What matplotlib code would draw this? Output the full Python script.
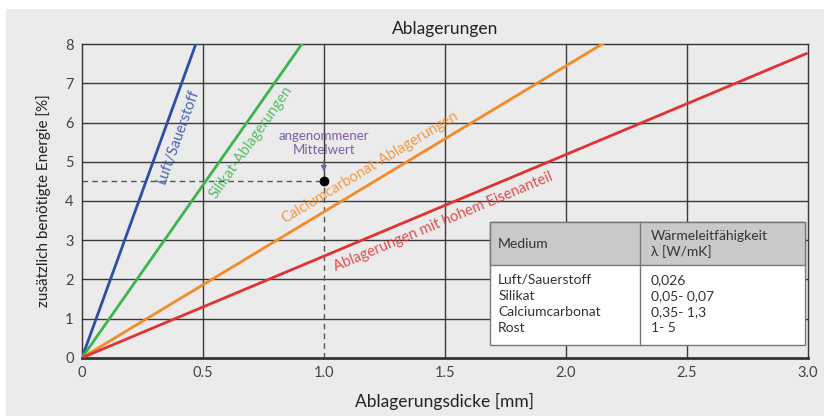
import numpy as np
import matplotlib.pyplot as plt
from matplotlib.patches import Rectangle

plt.rcParams['font.family'] = ['Lato', 'DejaVu Sans']

# slopes of the lines (% per mm)
media = ["Luft/Sauerstoff", "Silikat-Ablagerungen",
         "Calciumcarbonat-Ablagerungen", "Ablagerungen mit hohem Eisenanteil"]
slopes = [17.0, 8.8, 3.72, 2.59]
colors = ["#2c4ea6", "#3cb44b", "#f28a26", "#e03232"]
# x where each label sits along its line, and on which side (+1 below/right, -1 above/left)
label_x = [0.34, 0.65, 1.22, 1.47]
label_side = [1, 1, -1, 1]

mean_x, mean_y = 1.0, 4.5

table_media = ["Luft/Sauerstoff", "Silikat", "Calciumcarbonat", "Rost"]
table_lambda = ["0,026", "0,05- 0,07", "0,35- 1,3", "1- 5"]

bg = "#ebebeb"
fig = plt.figure(figsize=(8.24, 4.16), dpi=100, facecolor=bg)
ax = fig.add_axes([0.0995, 0.14, 0.8805, 0.754])
ax.set_facecolor(bg)
ax.set_xlim(0, 3.0)
ax.set_ylim(0, 8)

# grid
for gx in np.arange(0.5, 3.0, 0.5):
    if np.isclose(gx, mean_x):
        ax.axvline(gx, ymin=mean_y / 8, color="#3a3a3a", lw=1.0, zorder=1)
    else:
        ax.axvline(gx, color="#3a3a3a", lw=1.0, zorder=1)
for gy in range(1, 8):
    ax.axhline(gy, color="#3a3a3a", lw=1.0, zorder=1)

x = np.array([0, 3.0])
for s, c in zip(slopes, colors):
    ax.plot(x, s * x, color=c, lw=2.0, zorder=3, solid_capstyle="butt")

# labels along the lines, shifted sideways by a few points
for name, s, c, lx, side in zip(media, slopes, colors, label_x, label_side):
    p0 = ax.transData.transform((0, 0))
    p1 = ax.transData.transform((1, s))
    ang = np.arctan2(p1[1] - p0[1], p1[0] - p0[0])
    off = 10.5
    dx, dy = side * off * np.sin(ang), -side * off * np.cos(ang)
    ax.annotate(name, xy=(lx, s * lx), xytext=(dx, dy), textcoords="offset points",
                color=c, alpha=0.85, fontsize=10.5, ha="center", va="center",
                rotation=np.degrees(ang), rotation_mode="anchor", zorder=2)

# assumed mean value
ax.plot([0, mean_x], [mean_y, mean_y], ls=(0, (4, 3)), color="#555555", lw=1.0, zorder=2)
ax.plot([mean_x, mean_x], [0, mean_y], ls=(0, (4, 3)), color="#555555", lw=1.0, zorder=2)
ax.plot(mean_x, mean_y, "o", color="black", ms=6, zorder=5)
ax.text(mean_x, 5.48, "angenommener\nMittelwert", color="#7b5ea7", fontsize=9.5,
        ha="center", va="center", linespacing=1.15, zorder=4)
ax.annotate("", xy=(mean_x, 4.68), xytext=(mean_x, 5.08),
            arrowprops=dict(arrowstyle="-|>", color="#7b5ea7", lw=1.0,
                            mutation_scale=8), zorder=4)

# table
tx0, tx1, tcol = 1.686, 2.99, 2.306
ty0, ty1, thead = 0.33, 3.46, 2.37
ax.add_patch(Rectangle((tx0, ty0), tx1 - tx0, ty1 - ty0, facecolor="white",
                       edgecolor="#777777", lw=1.0, zorder=6))
ax.add_patch(Rectangle((tx0, thead), tx1 - tx0, ty1 - thead, facecolor="#c9c9c9",
                       edgecolor="#777777", lw=1.0, zorder=6))
ax.plot([tcol, tcol], [ty0, ty1], color="#777777", lw=1.0, zorder=7)
ax.text(tx0 + 0.035, 2.9, "Medium", fontsize=10, color="#333333", va="center", zorder=8)
ax.text(tcol + 0.045, 2.9, "Wärmeleitfähigkeit\nλ [W/mK]", fontsize=10,
        color="#333333", va="center", linespacing=1.2, zorder=8)
row_y = [1.99, 1.58, 1.17, 0.76]
for m, lam, ry in zip(table_media, table_lambda, row_y):
    ax.text(tx0 + 0.035, ry, m, fontsize=10, color="#333333", va="center", zorder=8)
    ax.text(tcol + 0.045, ry, lam, fontsize=10, color="#333333", va="center", zorder=8)

ax.set_xticks(np.arange(0, 3.01, 0.5))
ax.set_xticklabels(["0", "0.5", "1.0", "1.5", "2.0", "2.5", "3.0"])
ax.set_yticks(range(0, 9))
ax.tick_params(length=0, labelsize=10.5, labelcolor="#444444", pad=6)
for sp in ax.spines.values():
    sp.set_color("#333333")
    sp.set_linewidth(1.0)
ax.spines["bottom"].set_linewidth(2.0)

ax.set_title("Ablagerungen", fontsize=12.5, color="#222222", pad=7)
ax.set_xlabel("Ablagerungsdicke [mm]", fontsize=12.5, color="#222222", labelpad=9)
ax.set_ylabel("zusätzlich benötigte Energie [%]", fontsize=11, color="#222222", labelpad=10)

# white scan border at top and left
fig.patches.append(Rectangle((0, 0.978), 1, 0.022, transform=fig.transFigure,
                             facecolor="white", edgecolor="none"))
fig.patches.append(Rectangle((0, 0), 0.007, 1, transform=fig.transFigure,
                             facecolor="white", edgecolor="none"))

fig.savefig("out.png", dpi=100, facecolor=bg)
